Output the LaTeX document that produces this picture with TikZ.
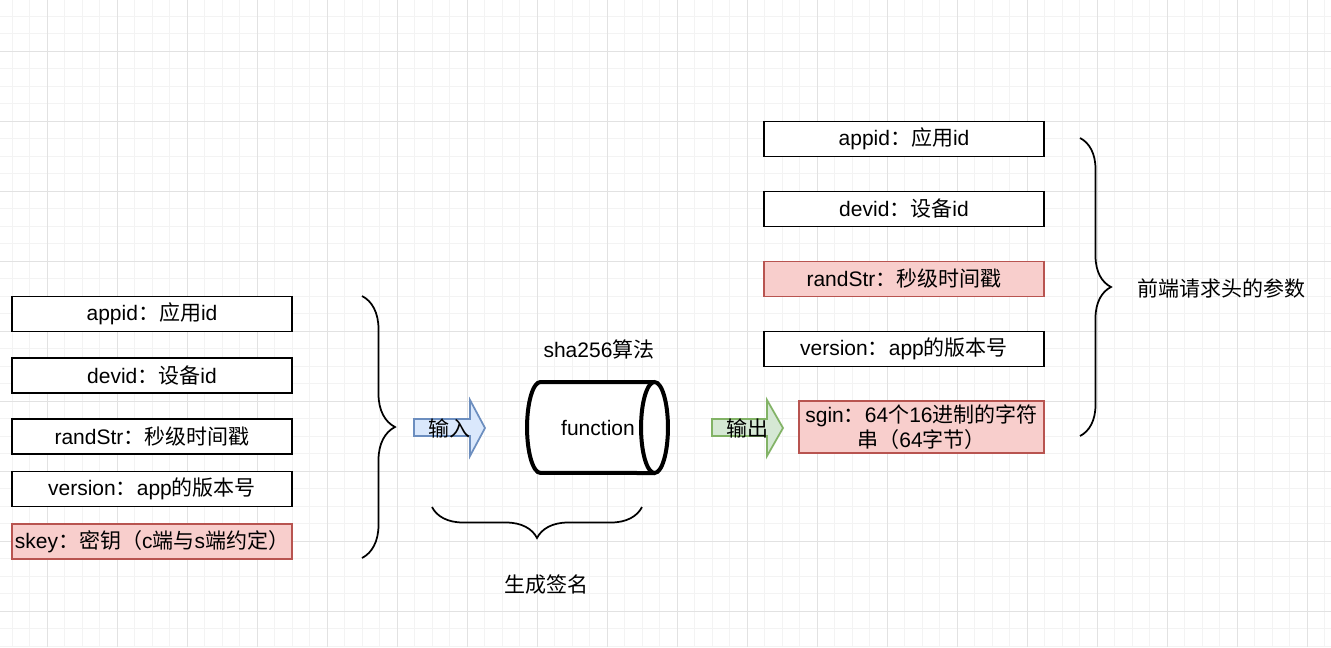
\documentclass[tikz,border=0pt]{standalone}
\usepackage{fontspec}
\usepackage{tikz}
\usetikzlibrary{decorations.pathreplacing}
\setmainfont{Liberation Sans}
\newfontfamily\cjk{Noto Sans CJK SC}
\definecolor{gridMinor}{HTML}{F3F3F3}
\definecolor{gridMajor}{HTML}{E2E2E2}
\definecolor{keyFill}{HTML}{F8CECC}
\definecolor{keyLine}{HTML}{B85450}
\definecolor{inFill}{HTML}{DAE8FC}
\definecolor{inLine}{HTML}{6C8EBF}
\definecolor{outFill}{HTML}{D5E8D4}
\definecolor{outLine}{HTML}{82B366}

\begin{document}
\begin{tikzpicture}[x=0.75pt,y=-0.75pt,
        every node/.style={font=\fontsize{15.75}{19}\selectfont},
        field/.style={draw,fill=white,line width=1.3pt,minimum width=210pt,minimum height=26.25pt,inner sep=0pt},
        keyfield/.style={field,draw=keyLine,fill=keyFill},
        bracket/.style={decorate,line width=1.3pt}]
        \useasboundingbox (0,0) rectangle (1331,647);

        \foreach \x in {-5.5,12,...,1340} \draw[gridMinor,line width=0.75pt] (\x,0) -- (\x,647);
        \foreach \y in {-1.5,16,...,660} \draw[gridMinor,line width=0.75pt] (0,\y) -- (1331,\y);
        \foreach \x in {47,117,...,1310} \draw[gridMajor,line width=0.75pt] (\x,0) -- (\x,647);
        \foreach \y in {51,121,...,640} \draw[gridMajor,line width=0.75pt] (0,\y) -- (1331,\y);

        \node[field] (inAppid) at (152,314) {appid{\cjk ：应用}id};
        \node[field] (inDevid) at (152,375.5) {devid{\cjk ：设备}id};
        \node[field] (inRand) at (152,436.5) {randStr{\cjk ：秒级时间戳}};
        \node[field] (inVersion) at (152,489) {version{\cjk ：}app{\cjk 的版本号}};
        \node[keyfield] (inSkey) at (152,541.5) {skey{\cjk ：密钥（}c{\cjk 端与}s{\cjk 端约定）}};
        \draw[bracket,decoration={brace,amplitude=24.75pt}] (362,296) -- (362,558);

        \draw[inLine,fill=inFill,line width=1.3pt] (414,419) -- (470,419) -- (470,400) -- (485,428) -- (470,456) -- (470,436) -- (414,436) -- cycle;
        \node (inLabel) at (449,428) {\cjk 输入};

        \node (algo) at (599,349) {sha256{\cjk 算法}};
        \draw[fill=white,line width=3pt] (654.5,382) -- (540.5,382) arc[start angle=90,end angle=270,x radius=10.1pt,y radius=34.1pt] -- (654.5,473);
        \draw[fill=white,line width=3pt] (654.5,427.5) ellipse[x radius=10.1pt,y radius=34.1pt];
        \node (func) at (598,428) {function};

        \draw[bracket,decoration={brace,amplitude=23.25pt}] (642,507) -- (432,507);
        \node (sign) at (546,585) {\cjk 生成签名};

        \draw[outLine,fill=outFill,line width=1.3pt] (712,419) -- (767,419) -- (767,400) -- (783,428) -- (767,456) -- (767,436) -- (712,436) -- cycle;
        \node (outLabel) at (747,428) {\cjk 输出};

        \node[field] (outAppid) at (904,139) {appid{\cjk ：应用}id};
        \node[field] (outDevid) at (904,209) {devid{\cjk ：设备}id};
        \node[keyfield] (outRand) at (904,279) {randStr{\cjk ：秒级时间戳}};
        \node[field] (outVersion) at (904,349) {version{\cjk ：}app{\cjk 的版本号}};
        \node[keyfield,minimum width=183.75pt,minimum height=39pt,align=center] (outSgin) at (921.5,427) {sgin{\cjk ：}64{\cjk 个}16{\cjk 进制的字符}\\{\cjk 串（}64{\cjk 字节）}};
        \draw[bracket,decoration={brace,amplitude=23.25pt}] (1080,138) -- (1080,436);
        \node (headers) at (1221,288) {\cjk 前端请求头的参数};
    \end{tikzpicture}
\end{document}
